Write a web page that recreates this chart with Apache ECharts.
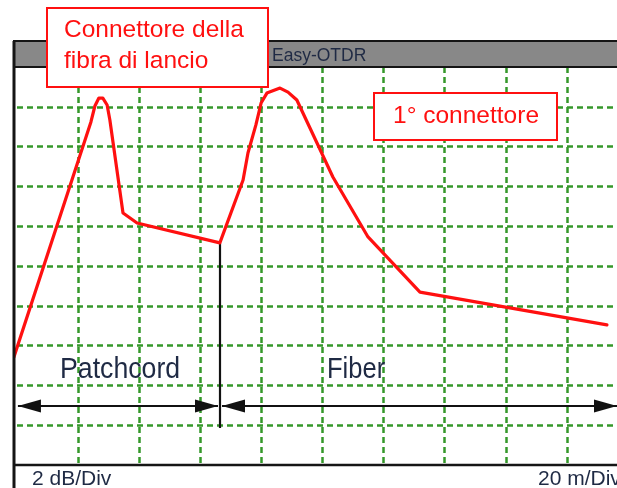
<!DOCTYPE html>
<html>
<head>
<meta charset="utf-8">
<script src="https://cdn.jsdelivr.net/npm/echarts@6/dist/echarts.min.js"></script>
<style>
  html, body { margin: 0; padding: 0; background: #ffffff; }
  #chart { width: 617px; height: 488px; }
</style>
</head>
<body>
<div id="chart"></div>
<script>
// OTDR trace: distance along the link (m) and backscatter level (dB)
const traceDistance = [-1.0, 24.2, 25.5, 26.8, 28.1, 29.5, 30.4, 34.7, 39.3, 66.4,
                       74.0, 75.6, 78.2, 79.9, 81.8, 86.1, 88.7, 91.6, 98.2, 103.4,
                       114.9, 131.9, 193.1];
const traceLevel = [5.43, 17.24, 18.04, 18.44, 18.44, 18.09, 17.34, 12.66, 12.16, 11.16,
                    14.32, 15.68, 17.09, 18.19, 18.69, 18.94, 18.74, 18.34, 16.18, 14.47,
                    11.46, 8.69, 7.04];

// Screen scale: 20 m per division horizontally (window shows up to 196.4 m),
// 2 dB per division vertically
const xDivisions = [0, 196.4, 20];   // min, max, step (m)
const yDivisions = [0, 20, 2];       // min, max, step (dB)

// End of the patch cord and the span arrows (m / dB)
const patchcordEnd = { distance: 66.4, level: 11.16, markerFoot: 1.86 };
const spanLevel = 2.96;
const patchcordSpan = [0.3, 65.8];
const fiberSpan = [67.1, 196.4];

const labels = {
  header: 'Easy-OTDR',
  launchConnector: ['Connettore della', 'fibra di lancio'],
  firstConnector: '1° connettore',
  patchcord: 'Patchcord',
  fiber: 'Fiber',
  yScale: '2 dB/Div',
  xScale: '20 m/Div'
};

const traceData = traceDistance.map((d, i) => [d, traceLevel[i]]);

const gridGreen = '#35982a';
const red = '#ff1010';
const ink = '#1f2a44';
const arrowHead = { symbol: 'triangle', symbolSize: [13, 23], symbolOffset: [0, 11.5] };

const chart = echarts.init(document.getElementById('chart'), null, { renderer: 'canvas' });

chart.setOption({
  animation: false,
  backgroundColor: '#ffffff',
  grid: { left: 17, right: 0, top: 67, bottom: 23, containLabel: false },
  xAxis: {
    type: 'value',
    min: xDivisions[0], max: xDivisions[1], interval: xDivisions[2],
    axisLine: { show: false }, axisTick: { show: false }, axisLabel: { show: false },
    splitLine: {
      show: true, showMinLine: false, showMaxLine: false,
      lineStyle: { color: gridGreen, width: 2.5, type: [6, 4] }
    }
  },
  yAxis: {
    type: 'value',
    min: yDivisions[0], max: yDivisions[1], interval: yDivisions[2],
    axisLine: { show: false }, axisTick: { show: false }, axisLabel: { show: false },
    splitLine: {
      show: true, showMinLine: false, showMaxLine: false,
      lineStyle: { color: gridGreen, width: 2.5, type: [6, 4] }
    }
  },
  series: [{
    type: 'line',
    data: traceData,
    showSymbol: false,
    clip: false,
    z: 5,
    lineStyle: { color: red, width: 3.2, join: 'round', cap: 'round' },
    markLine: {
      silent: true,
      animation: false,
      label: { show: false },
      symbol: ['none', 'none'],
      lineStyle: { color: '#111111', width: 2.2, type: 'solid' },
      emphasis: { disabled: true },
      data: [
        [
          { coord: [patchcordEnd.distance, patchcordEnd.level] },
          { coord: [patchcordEnd.distance, patchcordEnd.markerFoot] }
        ],
        [
          Object.assign({ coord: [patchcordSpan[0], spanLevel] }, arrowHead),
          Object.assign({ coord: [patchcordSpan[1], spanLevel] }, arrowHead)
        ],
        [
          Object.assign({ coord: [fiberSpan[0], spanLevel] }, arrowHead),
          Object.assign({ coord: [fiberSpan[1], spanLevel] }, arrowHead)
        ]
      ]
    }
  }],
  graphic: [
    // instrument header bar
    { type: 'rect', z: 10, shape: { x: 14, y: 41, width: 620, height: 26 },
      style: { fill: '#888888', stroke: '#151515', lineWidth: 2 } },
    { type: 'text', z: 11, x: 272, y: 56,
      style: { text: labels.header, font: '17.5px "Liberation Sans", Arial, sans-serif',
               fill: ink, align: 'left', verticalAlign: 'middle' } },
    // screen frame
    { type: 'line', z: 10, shape: { x1: 14, y1: 41, x2: 14, y2: 488 },
      style: { stroke: '#151515', lineWidth: 3 } },
    { type: 'line', z: 10, shape: { x1: 14, y1: 465, x2: 617, y2: 465 },
      style: { stroke: '#151515', lineWidth: 2.5 } },
    // callouts
    { type: 'rect', z: 20, shape: { x: 47, y: 8, width: 221, height: 79 },
      style: { fill: '#ffffff', stroke: red, lineWidth: 2 } },
    { type: 'text', z: 21, x: 64, y: 30,
      style: { text: labels.launchConnector[0], font: '24.5px "Liberation Sans", Arial, sans-serif',
               fill: red, align: 'left', verticalAlign: 'middle' } },
    { type: 'text', z: 21, x: 64, y: 61,
      style: { text: labels.launchConnector[1], font: '24.5px "Liberation Sans", Arial, sans-serif',
               fill: red, align: 'left', verticalAlign: 'middle' } },
    { type: 'rect', z: 20, shape: { x: 374, y: 93, width: 183, height: 47 },
      style: { fill: '#ffffff', stroke: red, lineWidth: 2 } },
    { type: 'text', z: 21, x: 393, y: 116,
      style: { text: labels.firstConnector, font: '24.5px "Liberation Sans", Arial, sans-serif',
               fill: red, align: 'left', verticalAlign: 'middle' } },
    // section names
    { type: 'text', z: 21, x: 60, y: 369.5, scaleX: 0.92,
      style: { text: labels.patchcord, font: '29px "Liberation Sans", Arial, sans-serif',
               fill: ink, align: 'left', verticalAlign: 'middle' } },
    { type: 'text', z: 21, x: 327, y: 369.5, scaleX: 0.88,
      style: { text: labels.fiber, font: '29px "Liberation Sans", Arial, sans-serif',
               fill: ink, align: 'left', verticalAlign: 'middle' } },
    // scale factors
    { type: 'text', z: 21, x: 32, y: 479.5,
      style: { text: labels.yScale, font: '21px "Liberation Sans", Arial, sans-serif',
               fill: ink, align: 'left', verticalAlign: 'middle' } },
    { type: 'text', z: 21, x: 538, y: 479.5,
      style: { text: labels.xScale, font: '21px "Liberation Sans", Arial, sans-serif',
               fill: ink, align: 'left', verticalAlign: 'middle' } }
  ]
});
</script>
</body>
</html>
